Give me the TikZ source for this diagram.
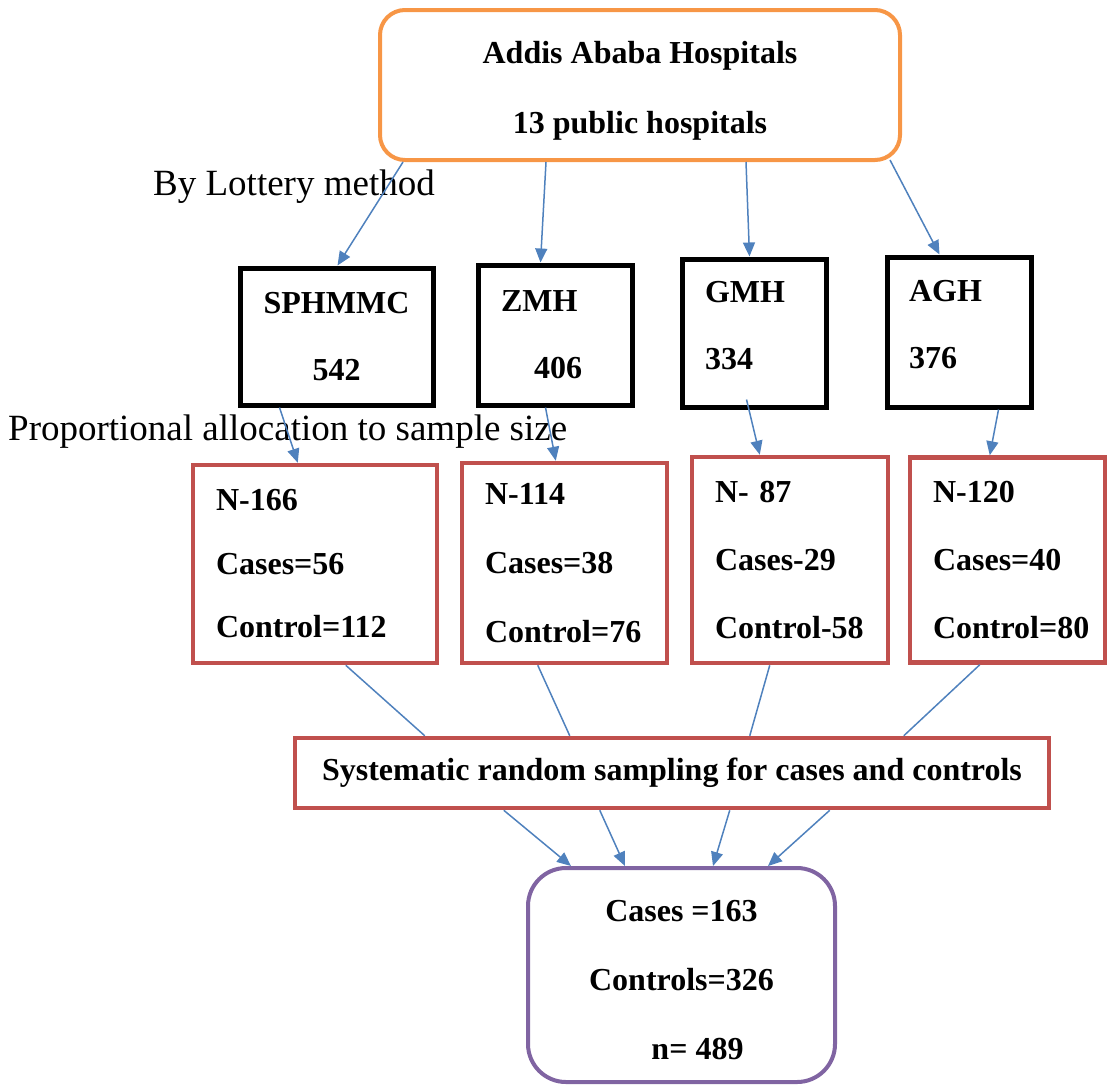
\documentclass[tikz,border=0pt]{standalone}
\usepackage{fontspec}
\setmainfont{Liberation Serif}
\usetikzlibrary{arrows.meta}

\definecolor{hosporange}{HTML}{F79646}
\definecolor{allocred}{HTML}{C0504D}
\definecolor{respurple}{HTML}{8064A2}
\definecolor{flowblue}{HTML}{4F81BD}

\tikzset{
  boxfont/.style={font=\fontsize{32}{#1}\selectfont\bfseries},
  hospbox/.style={draw=black, line width=5pt, inner ysep=0pt, boxfont=67},
  allocbox/.style={draw=allocred, line width=4.5pt, inner ysep=0pt, inner xsep=23pt, align=left, boxfont=68},
  flow/.style={draw=flowblue, line width=1.5pt, -{Triangle[length=14pt,width=12pt]}},
  link/.style={draw=flowblue, line width=1.5pt},
  steptext/.style={inner sep=0pt, anchor=base west, font=\fontsize{37}{44}\selectfont}
}

\begin{document}
\begin{tikzpicture}[x=1pt, y=-1pt]
\useasboundingbox (0,0) rectangle (1107,1085);

% top
\node[draw=hosporange, line width=4pt, rounded corners=25pt, minimum width=520pt, minimum height=150pt,
      inner ysep=0pt, align=center, boxfont=70, text height=103pt] (top) at (640,85)
      {Addis Ababa Hospitals\\13 public hospitals};

\node[steptext] (lottery) at (153,195) {By Lottery method};
\node[steptext] (propalloc) at (8,440) {Proportional allocation to sample size};

% selected hospitals
\node[hospbox, minimum width=193pt, minimum height=137pt, align=center] (sph) at (336.5,336.5) {SPHMMC\\542};
\node[hospbox, minimum width=154pt, minimum height=140pt, text width=108pt, inner xsep=23pt, align=left] (zmh) at (555,335) {ZMH\\\hspace*{33pt}406};
\node[hospbox, minimum width=144pt, minimum height=148pt, text width=98pt, inner xsep=23pt, align=left, text depth=82pt] (gmh) at (754,333) {GMH\\334};
\node[hospbox, minimum width=144pt, minimum height=150pt, text width=100pt, inner xsep=22pt, align=left, text depth=82pt] (agh) at (959,332) {AGH\\376};

% allocation
\node[allocbox, boxfont=63.5, minimum width=244pt, minimum height=198pt, text width=198pt] (c1) at (315,564) {N-166\\Cases=56\\Control=112};
\node[allocbox, boxfont=69, minimum width=205pt, minimum height=200pt, text width=159pt] (c2) at (564.5,563) {N-114\\Cases=38\\Control=76};
\node[allocbox, minimum width=196pt, minimum height=206pt, text width=150pt] (c3) at (790,560) {N- 87\\Cases-29\\Control-58};
\node[allocbox, minimum width=195pt, minimum height=205pt, text width=149pt] (c4) at (1007.5,560) {N-120\\Cases=40\\Control=80};

\node[draw=allocred, line width=4.5pt, minimum width=754pt, minimum height=70pt, inner sep=0pt, boxfont=40] (sys) at (672,773)
      {Systematic random sampling for cases and controls};

% result
\node[draw=respurple, line width=4pt, rounded corners=38pt, minimum width=307pt, minimum height=214pt,
      inner ysep=0pt, align=center, boxfont=69, text height=170pt] (res) at (681.5,975)
      {Cases =163\\Controls=326\\\hspace*{32pt}n= 489};

% connectors
\draw[flow] ([xshift=25pt]top.south west) -- ([xshift=100pt]sph.north west);
\draw[flow] ([xshift=168pt]top.south west) -- ([xshift=65pt]zmh.north west);
\draw[flow] ([xshift=368pt]top.south west) -- ([xshift=70pt]gmh.north west);
\draw[flow] ([xshift=-12pt,yshift=2pt]top.south east) -- ([xshift=55pt]agh.north west);

\draw[flow] ([xshift=42pt]sph.south west) -- ([xshift=107pt]c1.north west);
\draw[flow] ([xshift=70pt]zmh.south west) -- ([xshift=96pt]c2.north west);
\draw[flow] ([xshift=67pt,yshift=10pt]gmh.south west) -- ([xshift=70pt]c3.north west);
\draw[flow] ([xshift=114pt]agh.south west) -- ([xshift=82pt]c4.north west);

\draw[link] ([xshift=155pt]c1.south west) -- ([xshift=132pt]sys.north west);
\draw[link] ([xshift=78pt]c2.south west) -- ([xshift=277pt]sys.north west);
\draw[link] ([xshift=80pt]c3.south west) -- ([xshift=457pt]sys.north west);
\draw[link] ([xshift=72pt]c4.south west) -- ([xshift=611pt]sys.north west);

\draw[flow] ([xshift=211pt]sys.south west) -- ([xshift=45pt]res.north west);
\draw[flow] ([xshift=307pt]sys.south west) -- ([xshift=99pt]res.north west);
\draw[flow] ([xshift=437pt]sys.south west) -- ([xshift=187pt]res.north west);
\draw[flow] ([xshift=537pt]sys.south west) -- ([xshift=242pt]res.north west);

\end{tikzpicture}
\end{document}
